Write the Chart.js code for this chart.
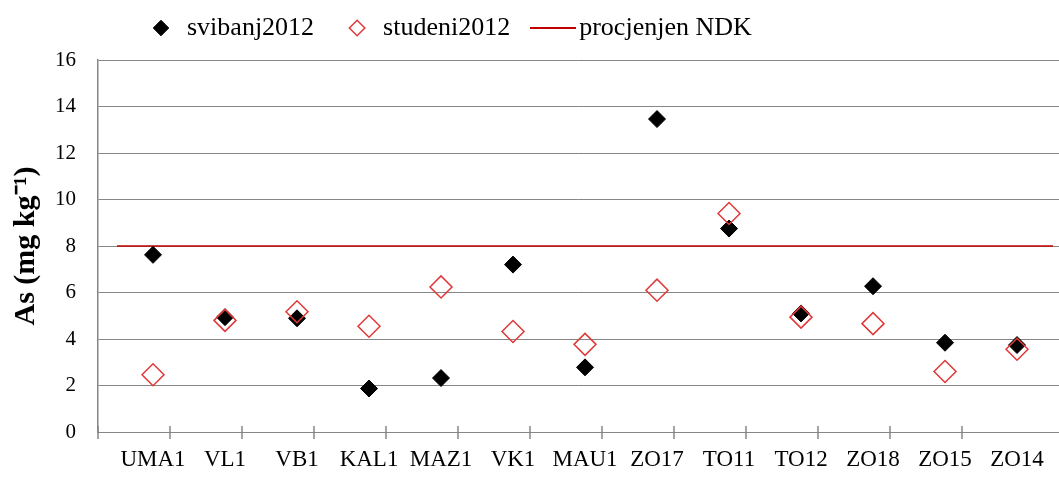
<!DOCTYPE html>
<html>
<head>
<meta charset="utf-8">
<script src="https://cdn.jsdelivr.net/npm/chart.js@4.4.1/dist/chart.umd.min.js"></script>
<style>
  html, body { margin: 0; padding: 0; background: #fff; overflow: hidden; }
  #c { display: block; }
</style>
</head>
<body>
<canvas id="c" width="1059" height="487"></canvas>
<script>
// Sampling sites and As content (mg/kg) for the two campaigns
const categories = ['UMA1', 'VL1', 'VB1', 'KAL1', 'MAZ1', 'VK1', 'MAU1', 'ZO17', 'TO11', 'TO12', 'ZO18', 'ZO15', 'ZO14'];
const svibanj2012 = [7.62, 4.94, 4.89, 1.87, 2.32, 7.2, 2.78, 13.46, 8.75, 5.1, 6.27, 3.84, 3.74];
const studeni2012 = [2.46, 4.8, 5.17, 4.55, 6.24, 4.32, 3.77, 6.1, 9.4, 4.94, 4.66, 2.6, 3.56];
// Estimated maximum allowed concentration (NDK) and the site span it covers
const ndkValue = 8;
const ndkSpan = [-0.5, 12.5];
const yTicks = [0, 2, 4, 6, 8, 10, 12, 14, 16];

const GRID = '#868686';
const tickOffset = 0.236;

Chart.defaults.font.family = "'Liberation Serif', 'Times New Roman', serif";
Chart.defaults.color = '#000';

// Legend swatch for the NDK line
const lineSwatch = document.createElement('canvas');
lineSwatch.width = 46;
lineSwatch.height = 2;
(function () {
  const g = lineSwatch.getContext('2d');
  g.fillStyle = '#c00000';
  g.fillRect(0, 0, 46, 2);
})();

// Cross tick marks between the site positions on the x axis
const crossTicks = {
  id: 'crossTicks',
  beforeDatasetsDraw(chart) {
    const { ctx, scales: { x, y } } = chart;
    const y0 = y.getPixelForValue(0);
    ctx.save();
    ctx.strokeStyle = GRID;
    ctx.lineWidth = 1.5;
    ctx.beginPath();
    for (let i = -1; i < categories.length - 1; i++) {
      const px = Math.round(x.getPixelForValue(i + tickOffset));
      ctx.moveTo(px, y0 - 6);
      ctx.lineTo(px, y0 + 7);
    }
    ctx.stroke();
    ctx.restore();
  }
};

// Moves the legend row to its place above the plot
const legendPlacement = {
  id: 'legendPlacement',
  afterLayout(chart) {
    const l = chart.legend;
    l.left += 118; l.right += 118;
    l.top -= 9; l.bottom -= 9;
  }
};

const toPoints = (vals) => vals.map((v, i) => ({ x: i, y: v }));

new Chart(document.getElementById('c'), {
  type: 'scatter',
  data: {
    datasets: [
      {
        label: 'svibanj2012',
        data: toPoints(svibanj2012),
        pointStyle: 'rectRot',
        pointRadius: 8.5,
        pointHoverRadius: 8.5,
        backgroundColor: '#000',
        borderColor: '#000',
        borderWidth: 1,
        order: 1
      },
      {
        label: 'studeni2012',
        data: toPoints(studeni2012),
        pointStyle: 'rectRot',
        pointRadius: 11,
        pointHoverRadius: 11,
        backgroundColor: 'rgba(0,0,0,0)',
        borderColor: '#e03838',
        borderWidth: 1.5,
        order: 0
      },
      {
        label: 'procjenjen NDK',
        data: ndkSpan.map(x => ({ x, y: ndkValue })),
        showLine: true,
        borderColor: '#c00000',
        backgroundColor: '#c00000',
        borderWidth: 1.5,
        pointRadius: 0,
        order: 2
      }
    ]
  },
  options: {
    responsive: false,
    animation: false,
    devicePixelRatio: 1,
    layout: { autoPadding: false, padding: { top: -6, left: 0, right: 0, bottom: 0 } },
    plugins: {
      tooltip: { enabled: false },
      legend: {
        position: 'top',
        align: 'start',
        labels: {
          usePointStyle: true,
          boxHeight: 11,
          padding: 30,
          color: '#000',
          font: { size: 26 },
          sort: (a, b) => a.datasetIndex - b.datasetIndex,
          generateLabels(chart) {
            const items = Chart.defaults.plugins.legend.labels.generateLabels(chart);
            items.forEach(it => { if (it.datasetIndex === 2) it.pointStyle = lineSwatch; });
            return items;
          }
        }
      }
    },
    scales: {
      x: {
        type: 'linear',
        min: -1 + tickOffset,
        max: 12.583,
        afterBuildTicks(scale) {
          scale.ticks = categories.map((_, i) => ({ value: i }));
        },
        afterFit(scale) {
          scale.paddingLeft = 0;
          scale.paddingRight = 0;
        },
        ticks: {
          autoSkip: false,
          maxRotation: 0,
          padding: 16,
          font: { size: 23, lineHeight: 1 },
          color: '#000',
          callback: (v) => categories[v] ?? ''
        },
        grid: { display: false, drawTicks: false },
        border: { display: true, color: GRID, width: 1 }
      },
      y: {
        min: 0,
        max: 16,
        afterBuildTicks(scale) {
          scale.ticks = yTicks.map(v => ({ value: v }));
        },
        afterFit(scale) {
          scale.width = 98;
        },
        ticks: {
          padding: 22,
          font: { size: 21 },
          color: '#000'
        },
        grid: { color: GRID, lineWidth: 1, drawTicks: false },
        border: { display: true, color: GRID, width: 1.5 },
        title: {
          display: true,
          text: 'As (mg kg\u207B\u00B9)',
          color: '#000',
          font: { size: 30, weight: 'bold' },
          padding: { top: 8, bottom: 10 }
        }
      }
    }
  },
  plugins: [crossTicks, legendPlacement]
});
</script>
</body>
</html>
